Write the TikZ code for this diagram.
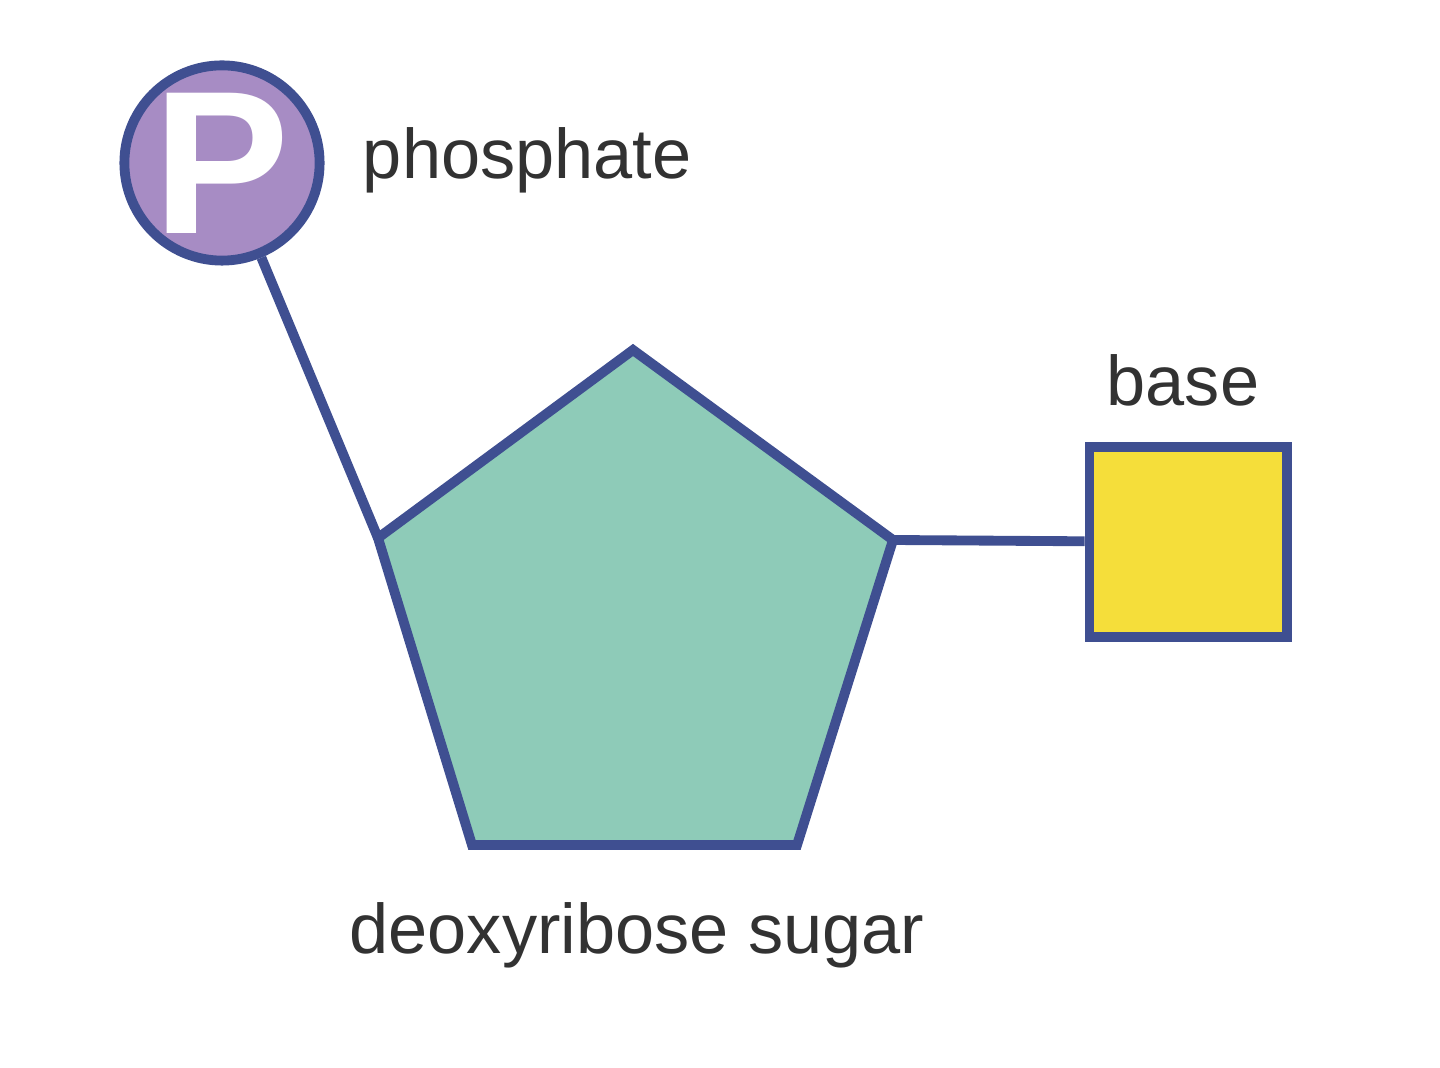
\documentclass[tikz,border=0pt]{standalone}
\usepackage{fontspec}
\setmainfont{Liberation Sans}
\usetikzlibrary{positioning}
\definecolor{edgeblue}{RGB}{63,79,145}
\definecolor{phosfill}{RGB}{167,140,196}
\definecolor{sugarfill}{RGB}{142,203,184}
\definecolor{basefill}{RGB}{245,222,58}
\definecolor{labelgray}{RGB}{50,50,50}
\begin{document}
\begin{tikzpicture}[x=0.01cm,y=-0.01cm,line width=2.8pt,
      label text/.style={text=labelgray,font=\fontsize{20}{24}\selectfont,inner sep=0pt},
      bond/.style={draw=edgeblue}]
      \useasboundingbox (0,0) rectangle (1440,1068);

      \node[circle,draw=edgeblue,fill=phosfill,minimum size=1.94cm,inner sep=0pt,
        text=white,font=\fontsize{58}{60}\selectfont\bfseries] (phos) at (222,163) {P};
      \node[label text,anchor=west] (phoslabel) at (358,160) {phosphate};

      \coordinate (top) at (633,350);
      \coordinate (left) at (378,538);
      \coordinate (right) at (893,540);
      \coordinate (botleft) at (472,845);
      \coordinate (botright) at (797,845);
      \draw[bond,fill=sugarfill,line join=miter] (top) -- (right) -- (botright) -- (botleft) -- (left) -- cycle;
      \node[label text] (sugarlabel) at (637,935) {deoxyribose sugar};

      \node[draw=edgeblue,fill=basefill,minimum width=1.97cm,minimum height=1.9cm] (base) at (1188,542) {};
      \node[label text] (baselabel) at (1183,380) {base};

      \draw[bond] (phos) -- (left);
      \draw[bond] (right) -- (base);
\end{tikzpicture}
\end{document}
